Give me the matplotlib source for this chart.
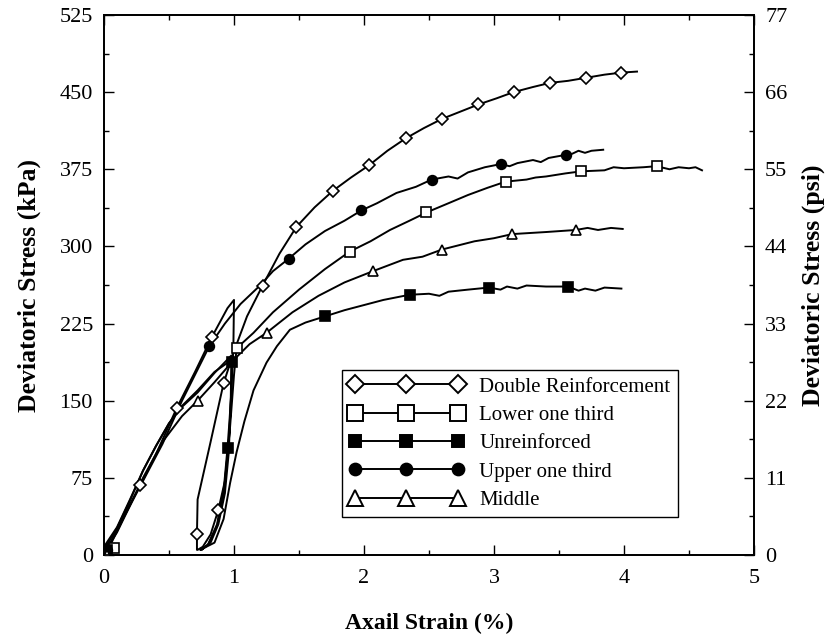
import numpy as np
import matplotlib
matplotlib.use("Agg")
import matplotlib.pyplot as plt
from matplotlib.lines import Line2D
from matplotlib.ticker import MultipleLocator

plt.rcParams['font.family'] = ['Liberation Serif', 'DejaVu Serif']

# double reinforcement: load, unload/reload loop, then main curve
dr_strain = [0, 0.05, 0.15, 0.28, 0.4, 0.56, 0.7, 0.83, 0.95, 1.0,
             0.995, 0.98, 0.96, 0.93, 0.88, 0.82, 0.76, 0.72,
             0.715, 0.715, 0.72, 0.82, 0.92, 1.0, 1.1, 1.22,
             1.35, 1.48, 1.62, 1.76, 1.9, 2.04, 2.18, 2.32, 2.46, 2.6,
             2.74, 2.88, 3.02, 3.15, 3.3, 3.43, 3.57, 3.71, 3.85, 3.98, 4.1]
dr_stress = [5, 12, 38, 68, 98, 143, 178, 212, 240, 248,
             200, 160, 110, 72, 44, 20, 8, 5,
             5, 20, 54, 110, 167, 198, 232, 262,
             293, 319, 338, 354, 367, 379, 393, 405, 415, 424,
             431, 438, 444, 450, 455, 459, 461, 464, 467, 469, 470]
dr_mk_strain = [0.02, 0.28, 0.56, 0.83, 0.715, 0.88, 0.92, 1.22, 1.48, 1.76, 2.04,
                2.32, 2.6, 2.88, 3.15, 3.43, 3.71, 3.98]
dr_mk_stress = [5, 68, 143, 212, 20, 44, 167, 262, 319, 354, 379,
                405, 424, 438, 450, 459, 464, 469]

# upper one third
ut_strain = [0, 0.05, 0.15, 0.3, 0.45, 0.6, 0.81, 0.93, 1.05, 1.2, 1.3, 1.42,
             1.55, 1.7, 1.85, 1.98, 2.1, 2.25, 2.4, 2.52, 2.65, 2.72, 2.8, 2.93,
             3.05, 3.12, 3.18, 3.3, 3.36, 3.42, 3.55, 3.6, 3.65, 3.7, 3.75, 3.84]
ut_stress = [5, 10, 36, 72, 108, 150, 203, 225, 244, 262, 276, 288,
             302, 315, 325, 335, 342, 352, 358, 365, 368, 366, 372, 377,
             380, 378, 381, 384, 382, 386, 389, 390, 393, 391, 393, 394]
ut_mk_strain = [0.02, 0.81, 1.42, 1.98, 2.52, 3.05, 3.55]
ut_mk_stress = [5, 203, 288, 335, 365, 380, 389]

# lower one third
lt_strain = [0, 0.1, 0.2, 0.3, 0.4, 0.5, 0.6, 0.72, 0.85, 0.98,
             0.975, 0.96, 0.93, 0.88, 0.82, 0.75,
             0.8, 0.87, 0.93, 0.97, 1.0, 1.02,
             1.15, 1.3, 1.5, 1.7, 1.89, 2.05, 2.2, 2.35, 2.48, 2.65, 2.8,
             2.95, 3.09, 3.25, 3.32, 3.4, 3.55, 3.67, 3.85, 3.92, 4.0, 4.15,
             4.25, 4.35, 4.42, 4.5, 4.55, 4.6]
lt_stress = [8, 27, 54, 82, 106, 128, 144, 158, 177, 194,
             150, 100, 60, 30, 12, 5,
             10, 30, 70, 125, 175, 201,
             216, 236, 258, 278, 295, 305, 316, 325, 333, 342, 350,
             357, 363, 365, 367, 368, 371, 373, 374, 377, 376, 377,
             378, 375, 377, 376, 377, 374]
lt_mk_strain = [0.08, 1.02, 1.89, 2.48, 3.09, 3.67, 4.25]
lt_mk_stress = [7, 201, 295, 333, 363, 373, 378]

# unreinforced
ur_strain = [0, 0.1, 0.2, 0.3, 0.4, 0.5, 0.6, 0.72, 0.85, 0.985,
             0.98, 0.965, 0.95, 0.92, 0.87, 0.8, 0.74,
             0.85, 0.92, 0.97, 1.02, 1.08, 1.15, 1.25, 1.33, 1.43,
             1.55, 1.7, 1.85, 2.0, 2.15, 2.35, 2.5, 2.58, 2.65, 2.8, 2.96, 3.05,
             3.1, 3.18, 3.25, 3.4, 3.57, 3.65, 3.7, 3.78, 3.85, 3.98]
ur_stress = [5, 26, 53, 82, 106, 128, 145, 160, 178, 190,
             160, 130, 104, 62, 28, 10, 5,
             12, 35, 70, 100, 130, 160, 187, 203, 219,
             226, 232, 238, 243, 248, 253, 254, 252, 256, 258, 260, 258,
             261, 259, 262, 261, 261, 257, 259, 257, 260, 259]
ur_mk_strain = [0.02, 0.985, 0.95, 1.7, 2.35, 2.96, 3.57]
ur_mk_stress = [5, 188, 104, 232, 253, 260, 261]

# middle
md_strain = [0, 0.1, 0.2, 0.3, 0.45, 0.6, 0.72, 0.85, 1.0, 1.12, 1.25,
             1.45, 1.65, 1.85, 2.07, 2.3, 2.45, 2.6, 2.85, 3.0, 3.14, 3.4, 3.63,
             3.72, 3.8, 3.9, 3.99]
md_stress = [2, 22, 48, 75, 110, 135, 150, 168, 190, 205, 216,
             236, 252, 265, 276, 287, 290, 297, 305, 308, 312, 314, 316,
             318, 316, 318, 317]
md_mk_strain = [0.02, 0.72, 1.25, 2.07, 2.6, 3.14, 3.63]
md_mk_stress = [0, 150, 216, 276, 297, 312, 316]

# name, line data, marker data, marker, face colour, plot size, legend size
series = [
    ("Double Reinforcement", dr_strain, dr_stress, dr_mk_strain, dr_mk_stress, "D", "white", 6.0, 9.0),
    ("Lower one third", lt_strain, lt_stress, lt_mk_strain, lt_mk_stress, "s", "white", 7.0, 12.0),
    ("Unreinforced", ur_strain, ur_stress, ur_mk_strain, ur_mk_stress, "s", "black", 7.0, 8.5),
    ("Upper one third", ut_strain, ut_stress, ut_mk_strain, ut_mk_stress, "o", "black", 7.0, 8.5),
    ("Middle", md_strain, md_stress, md_mk_strain, md_mk_stress, "^", "white", 7.0, 11.0),
]

fig = plt.figure(figsize=(8.27, 6.35), dpi=100)
ax = fig.add_axes([104 / 827, 80 / 635, 650 / 827, 540 / 635])

handles = []
for name, xs, ys, mx, my, mk, fc, ms, lms in series:
    ax.plot(xs, ys, color="black", lw=1.4, zorder=2)
    ax.plot(mx, my, ls="none", marker=mk, ms=ms, mfc=fc, mec="black", mew=1.2, zorder=3)
    handles.append(Line2D([], [], color="black", lw=1.4, marker=mk, ms=lms,
                          mfc=fc, mec="black", mew=1.4, label=name))

ax.set_xlim(0, 5)
ax.set_ylim(0, 525)
ax.xaxis.set_major_locator(MultipleLocator(1))
ax.xaxis.set_minor_locator(MultipleLocator(0.5))
ax.yaxis.set_major_locator(MultipleLocator(75))
ax.yaxis.set_minor_locator(MultipleLocator(37.5))
ax.tick_params(which="both", direction="in", top=True, right=False, labelsize=16, width=1.0)
ax.tick_params(axis="x", which="both", pad=10)
ax.tick_params(axis="y", which="both", pad=8)
ax.tick_params(which="major", length=7)
ax.tick_params(which="minor", length=3.6)
for s in ax.spines.values():
    s.set_linewidth(1.3)

ax.set_xlabel("Axail Strain (%)", fontsize=17, fontweight="bold", labelpad=18)
ax.set_ylabel("Deviatoric Stress (kPa)", fontsize=18.5, fontweight="bold", labelpad=13)

ax2 = ax.twinx()
ax2.set_ylim(0, 77)
ax2.yaxis.set_major_locator(MultipleLocator(11))
ax2.yaxis.set_minor_locator(MultipleLocator(5.5))
ax2.tick_params(which="both", direction="in", labelsize=16, pad=8, width=1.0)
ax2.tick_params(which="major", length=7)
ax2.tick_params(which="minor", length=3.6)
ax2.set_ylabel("Deviatoric Stress (psi)", fontsize=18.5, fontweight="bold", labelpad=10)
for s in ax2.spines.values():
    s.set_linewidth(1.3)

leg = ax.legend(handles=handles, loc="lower left", bbox_to_anchor=(0.366, 0.07),
                numpoints=3, handlelength=5.5, markerscale=1.0, fontsize=15,
                labelspacing=0.42, handletextpad=0.75, borderpad=0.35, borderaxespad=0,
                frameon=True, fancybox=False, edgecolor="black", framealpha=1)
leg.get_frame().set_linewidth(1.0)

fig.savefig("out.png", dpi=100)
